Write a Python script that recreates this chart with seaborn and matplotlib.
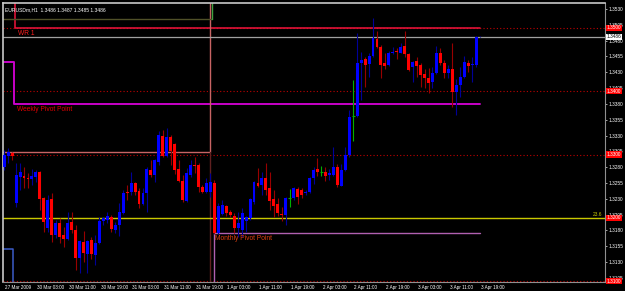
import numpy as np
import pandas as pd
import matplotlib
matplotlib.use("Agg")
import matplotlib.pyplot as plt
import matplotlib.transforms as mtransforms
import seaborn as sns

# ---------------- data (EURUSDm, H1) ----------------
opens = [
    1.3280, 1.3298, 1.3302, 1.3223, 1.3265, 1.3266, 1.3263, 1.3261, 1.3265, 1.3272,
    1.3231, 1.3184, 1.3230, 1.3173, 1.3192, 1.3173, 1.3167, 1.3193, 1.3181, 1.3137,
    1.3162, 1.3143, 1.3165, 1.3141, 1.3160, 1.3195, 1.3197, 1.3201, 1.3181, 1.3189,
    1.3208, 1.3241, 1.3241, 1.3255, 1.3242, 1.3222, 1.3239, 1.3276, 1.3268, 1.3288,
    1.3329, 1.3298, 1.3328, 1.3317, 1.3277, 1.3258, 1.3227, 1.3268, 1.3283, 1.3283,
    1.3249, 1.3241, 1.3241, 1.3255, 1.3176, 1.3206, 1.3219, 1.3209, 1.3203, 1.3184,
    1.3181, 1.3195, 1.3200, 1.3225, 1.3255, 1.3252, 1.3263, 1.3247, 1.3230, 1.3222,
    1.3206, 1.3204, 1.3231, 1.3231, 1.3246, 1.3244, 1.3239, 1.3241, 1.3263, 1.3277,
    1.3272, 1.3272, 1.3268, 1.3268, 1.3280, 1.3250, 1.3276, 1.3299, 1.3361, 1.3361,
    1.3445, 1.3451, 1.3443, 1.3456, 1.3483, 1.3470, 1.3445, 1.3442, 1.3460, 1.3464,
    1.3460, 1.3472, 1.3459, 1.3438, 1.3448, 1.3442, 1.3427, 1.3421, 1.3415, 1.3429,
    1.3460, 1.3445, 1.3429, 1.3435, 1.3399, 1.3410, 1.3423, 1.3445, 1.3442, 1.3442,
    1.3485]
closes = [
    1.3299, 1.3304, 1.3298, 1.3268, 1.3272, 1.3263, 1.3261, 1.3266, 1.3272, 1.3230,
    1.3193, 1.3228, 1.3173, 1.3192, 1.3170, 1.3167, 1.3192, 1.3181, 1.3137, 1.3163,
    1.3144, 1.3163, 1.3143, 1.3160, 1.3195, 1.3200, 1.3203, 1.3182, 1.3189, 1.3209,
    1.3239, 1.3239, 1.3255, 1.3241, 1.3222, 1.3239, 1.3277, 1.3268, 1.3291, 1.3331,
    1.3298, 1.3328, 1.3306, 1.3276, 1.3258, 1.3228, 1.3271, 1.3283, 1.3282, 1.3249,
    1.3241, 1.3255, 1.3257, 1.3176, 1.3219, 1.3220, 1.3208, 1.3204, 1.3184, 1.3192,
    1.3208, 1.3201, 1.3230, 1.3257, 1.3250, 1.3263, 1.3244, 1.3227, 1.3219, 1.3208,
    1.3204, 1.3231, 1.3231, 1.3247, 1.3233, 1.3236, 1.3241, 1.3263, 1.3276, 1.3272,
    1.3272, 1.3266, 1.3271, 1.3280, 1.3252, 1.3276, 1.3299, 1.3359, 1.3361, 1.3445,
    1.3449, 1.3442, 1.3456, 1.3484, 1.3470, 1.3442, 1.3440, 1.3460, 1.3462, 1.3462,
    1.3470, 1.3459, 1.3434, 1.3446, 1.3440, 1.3426, 1.3421, 1.3413, 1.3429, 1.3460,
    1.3445, 1.3429, 1.3435, 1.3399, 1.3410, 1.3423, 1.3446, 1.3440, 1.3443, 1.3486,
    1.3486]
highs = [
    1.3307, 1.3310, 1.3304, 1.3287, 1.3287, 1.3280, 1.3271, 1.3277, 1.3276, 1.3274,
    1.3233, 1.3236, 1.3239, 1.3197, 1.3200, 1.3186, 1.3209, 1.3209, 1.3189, 1.3165,
    1.3179, 1.3165, 1.3170, 1.3173, 1.3201, 1.3201, 1.3209, 1.3204, 1.3193, 1.3223,
    1.3244, 1.3252, 1.3272, 1.3257, 1.3247, 1.3247, 1.3280, 1.3291, 1.3293, 1.3337,
    1.3339, 1.3342, 1.3331, 1.3318, 1.3291, 1.3268, 1.3279, 1.3291, 1.3296, 1.3287,
    1.3252, 1.3263, 1.3271, 1.3260, 1.3223, 1.3228, 1.3220, 1.3212, 1.3208, 1.3209,
    1.3216, 1.3203, 1.3231, 1.3258, 1.3279, 1.3272, 1.3287, 1.3272, 1.3244, 1.3231,
    1.3217, 1.3233, 1.3246, 1.3249, 1.3249, 1.3247, 1.3244, 1.3264, 1.3280, 1.3295,
    1.3282, 1.3280, 1.3277, 1.3312, 1.3285, 1.3285, 1.3312, 1.3370, 1.3418, 1.3492,
    1.3462, 1.3454, 1.3460, 1.3516, 1.3495, 1.3473, 1.3460, 1.3464, 1.3470, 1.3468,
    1.3476, 1.3495, 1.3460, 1.3448, 1.3454, 1.3445, 1.3435, 1.3437, 1.3438, 1.3472,
    1.3468, 1.3449, 1.3442, 1.3476, 1.3419, 1.3438, 1.3456, 1.3449, 1.3454, 1.3487,
    1.3487]
lows = [
    1.3276, 1.3287, 1.3291, 1.3217, 1.3244, 1.3247, 1.3247, 1.3252, 1.3257, 1.3212,
    1.3178, 1.3178, 1.3162, 1.3168, 1.3160, 1.3154, 1.3165, 1.3176, 1.3118, 1.3113,
    1.3130, 1.3113, 1.3135, 1.3125, 1.3158, 1.3189, 1.3192, 1.3178, 1.3176, 1.3171,
    1.3206, 1.3228, 1.3236, 1.3236, 1.3216, 1.3220, 1.3209, 1.3265, 1.3257, 1.3283,
    1.3296, 1.3296, 1.3283, 1.3269, 1.3257, 1.3225, 1.3225, 1.3265, 1.3271, 1.3241,
    1.3239, 1.3239, 1.3233, 1.3174, 1.3174, 1.3204, 1.3203, 1.3201, 1.3176, 1.3170,
    1.3170, 1.3178, 1.3197, 1.3222, 1.3249, 1.3236, 1.3236, 1.3212, 1.3201, 1.3203,
    1.3195, 1.3189, 1.3217, 1.3228, 1.3222, 1.3231, 1.3236, 1.3239, 1.3253, 1.3266,
    1.3266, 1.3258, 1.3260, 1.3266, 1.3249, 1.3250, 1.3274, 1.3296, 1.3321, 1.3359,
    1.3386, 1.3407, 1.3423, 1.3454, 1.3468, 1.3421, 1.3435, 1.3440, 1.3459, 1.3451,
    1.3460, 1.3454, 1.3432, 1.3415, 1.3423, 1.3407, 1.3405, 1.3397, 1.3405, 1.3427,
    1.3442, 1.3421, 1.3421, 1.3375, 1.3363, 1.3391, 1.3421, 1.3430, 1.3415, 1.3438,
    1.3485]

time_labels = ["27 Mar 2009", "30 Mar 03:00", "30 Mar 11:00", "30 Mar 19:00",
               "31 Mar 03:00", "31 Mar 11:00", "31 Mar 19:00", "1 Apr 03:00",
               "1 Apr 11:00", "1 Apr 19:00", "2 Apr 03:00", "2 Apr 11:00",
               "2 Apr 19:00", "3 Apr 03:00", "3 Apr 11:00", "3 Apr 19:00"]
time_label_bars = [0, 8, 16, 24, 32, 40, 48, 56, 64, 72, 80, 88, 96, 104, 112, 120]

price_ticks = [1.3530, 1.3505, 1.3480, 1.3455, 1.3430, 1.3405, 1.3380, 1.3355,
               1.3330, 1.3305, 1.3280, 1.3255, 1.3230, 1.3205, 1.3180, 1.3155,
               1.3130, 1.3105]
round_levels = [1.3500, 1.3400, 1.3300, 1.3200, 1.3100]
bid_price = 1.3486
header_text = "EURUSDm,H1  1.3486 1.3487 1.3485 1.3486"

weekly_r1 = 1.3500
weekly_pivot_prev = 1.3446
weekly_pivot = 1.3380
weekly_s_prev = 1.3150
month_prev_level = 1.3304
month_top_level = 1.3514
monthly_pivot = 1.3176
fib_level = 1.3200
fib_label = "23.6"

# ---------------- style ----------------
sns.set_theme(style="dark", rc={
    "axes.facecolor": "black", "figure.facecolor": "black",
    "axes.edgecolor": "#a0a0a0", "axes.grid": False,
    "xtick.color": "#c0c0c0", "ytick.color": "#c0c0c0",
})
plt.rcParams["font.family"] = ["Liberation Sans", "DejaVu Sans"]

W, H = 625, 291
fig = plt.figure(figsize=(W / 100, H / 100), dpi=100)
ax = fig.add_axes([3 / W, 9 / H, 602 / W, 279 / H])
ax.set_facecolor("black")

df = pd.DataFrame({"open": opens, "high": highs, "low": lows, "close": closes})
df["bar"] = np.arange(len(df))
bull = df[df.close > df.open]
bear = df[df.close < df.open]
doji = df[df.close == df.open]

last = len(df) - 1
week_start = 2.7
month_start = 52.3

# dotted round-number levels
for lv in round_levels:
    ax.axhline(lv, color="#c00000", lw=0.8, ls=(0, (1, 2)), zorder=1)

# indicator lines
ax.plot([-1, week_start, week_start, last], [1.36, 1.36, weekly_r1, weekly_r1],
        color="#f0143c", lw=1.1, zorder=2)
ax.plot([-1, week_start - 0.3, week_start - 0.3, last],
        [weekly_pivot_prev, weekly_pivot_prev, weekly_pivot, weekly_pivot],
        color="#c800c8", lw=1.4, zorder=2)
ax.plot([-1, week_start - 0.5, week_start - 0.5], [weekly_s_prev, weekly_s_prev, 1.30],
        color="#3c5cc8", lw=1.1, zorder=2)
ax.plot([-1, month_start - 0.5, month_start - 0.5],
        [month_prev_level, month_prev_level, 1.36], color="#c86464", lw=1.0, zorder=2)
ax.plot([month_start - 0.5, month_start - 0.5], [1.30, month_prev_level],
        color="#602020", lw=1.0, zorder=2)
ax.plot([-1, month_start], [month_top_level, month_top_level], color="#505028", lw=1.0, zorder=2)
ax.plot([month_start, month_start], [month_top_level, 1.36], color="#40a040", lw=1.0, zorder=2)
ax.plot([month_start + 0.5, month_start + 0.5, last],
        [1.30, monthly_pivot, monthly_pivot], color="#b060b0", lw=1.0, zorder=2)
ax.axhline(fib_level, color="#c8c800", lw=1.0, zorder=2)
ax.axhline(bid_price, color="#a0a0a0", lw=0.9, zorder=2)

# candles
ax.vlines(bull.bar, bull.low, bull.high, color="#000098", lw=0.8, zorder=3)
ax.vlines(bear.bar, bear.low, bear.high, color="#980000", lw=0.8, zorder=3)
ax.vlines(doji.bar, doji.low, doji.high, color="#00b000", lw=0.8, zorder=3)
ax.bar(bull.bar, (bull.close - bull.open).clip(lower=0.00012), bottom=bull.open,
       width=0.74, color="#0000ff", linewidth=0, zorder=4)
ax.bar(bear.bar, (bear.open - bear.close).clip(lower=0.00012), bottom=bear.close,
       width=0.74, color="#ff0000", linewidth=0, zorder=4)
ax.hlines(doji.close, doji.bar - 0.4, doji.bar + 0.4, color="#00b000", lw=0.8, zorder=4)

ax.set_xlim(-0.3, 151.5)
ax.set_ylim(1.30986, 1.35395)

# labels on chart
ax.text(3.5, weekly_r1 - 0.0003, "WR 1", color="#ff2020", fontsize=4.8, va="top", ha="left", zorder=5)
ax.text(3.3, weekly_pivot - 0.0003, "Weekly Pivot Point", color="#e00000", fontsize=4.8,
        va="top", ha="left", zorder=5)
ax.text(month_start + 0.8, monthly_pivot - 0.0003, "Monthly Pivot Point", color="#e04010",
        fontsize=4.8, va="top", ha="left", zorder=5)
ax.text(0.995, fib_level + 0.0001, fib_label, color="#c8c800", fontsize=3.5, va="bottom",
        ha="right", transform=mtransforms.blended_transform_factory(ax.transAxes, ax.transData), zorder=5)
ax.text(0.004, 0.985, header_text, color="white", fontsize=3.6, va="top", ha="left",
        transform=ax.transAxes, zorder=6)

# axes: right price scale
ax.yaxis.tick_right()
ax.set_yticks(price_ticks)
ax.set_yticklabels([f"{p:.4f}" for p in price_ticks], fontsize=3.4, color="white")
ax.tick_params(axis="y", length=1.5, width=0.6, pad=1.0, colors="#c0c0c0", labelcolor="white")

# time axis
ax.set_xticks(time_label_bars)
ax.set_xticklabels([])
ax.tick_params(axis="x", length=2, width=0.6, colors="#c0c0c0")
trx = mtransforms.blended_transform_factory(ax.transData, ax.transAxes)
for b, lab in zip(time_label_bars, time_labels):
    ax.text(b + 0.3, -0.012, lab, color="white", fontsize=3.3, va="top", ha="left",
            transform=trx, clip_on=False)

# price boxes on the scale
trp = mtransforms.blended_transform_factory(ax.transAxes, ax.transData)
for lv in round_levels:
    ax.text(1.003, lv, f"{lv:.4f}", color="white", fontsize=3.4, va="center", ha="left",
            transform=trp, clip_on=False, zorder=7,
            bbox=dict(boxstyle="square,pad=0.15", fc="#ff0000", ec="none"))
ax.text(1.003, bid_price, f"{bid_price:.4f}", color="black", fontsize=3.4, va="center",
        ha="left", transform=trp, clip_on=False, zorder=7,
        bbox=dict(boxstyle="square,pad=0.15", fc="white", ec="none"))

for side in ["left", "top"]:
    ax.spines[side].set_color("#c8c8c8")
    ax.spines[side].set_linewidth(1.2)
for side in ["right", "bottom"]:
    ax.spines[side].set_color("#909090")
    ax.spines[side].set_linewidth(0.8)

fig.savefig("out.png", dpi=100, facecolor="black")
